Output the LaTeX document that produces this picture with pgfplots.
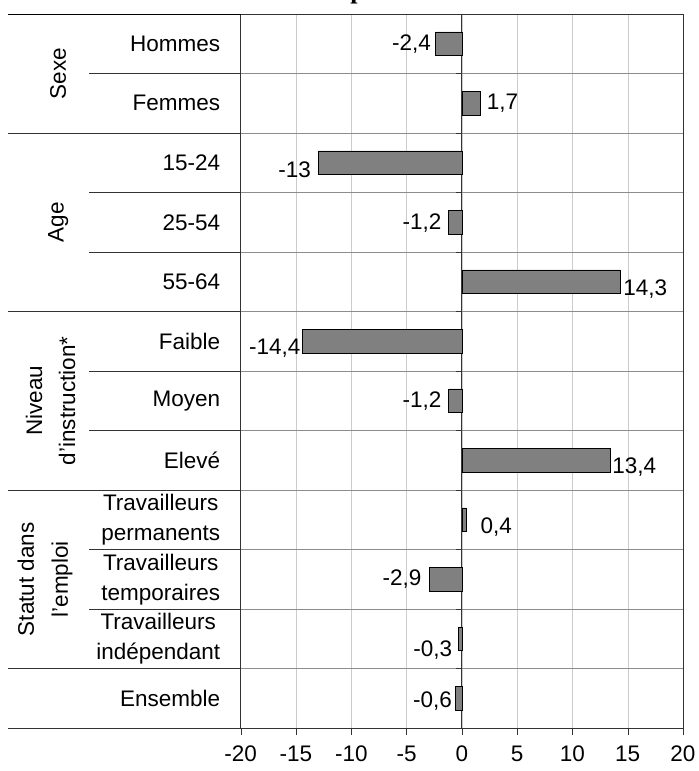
\documentclass[border=0pt]{standalone}
\usepackage{fontspec}
\setmainfont{Liberation Sans}
\newfontfamily\titlefont{Liberation Serif}
\usepackage{pgfplots}
\usepackage{pgfplotstable}
\pgfplotsset{compat=1.18}

\definecolor{barfill}{HTML}{808080}
\definecolor{rowline}{HTML}{8C8C8C}
\definecolor{vgrid}{HTML}{CCCCCC}
\definecolor{frame}{HTML}{333333}

% row, value, printed label, label shifts (bp)
\pgfplotstableread{
row val   lab   dx  dy
1   -2.4  -2,4  -4  0
2   1.7   1,7   6   0
3   -13   -13   -7  -7
4   -1.2  -1,2  -7  -1
5   14.3  14,3  3   -7
6   -14.4 -14,4 -2  -7
7   -1.2  -1,2  -7  0
8   13.4  13,4  2   -7
9   0.4   0,4   14  -7
10  -2.9  -2,9  -8  0
11  -0.3  -0,3  -6  -11
12  -0.6  -0,6  -3  -3
}\data

\newcommand{\lbl}{\fontsize{22.5bp}{30bp}\selectfont}

\begin{document}
\begin{tikzpicture}
\useasboundingbox (-240.7bp,-43bp) rectangle (458.3bp,728bp);
\begin{axis}[
    at={(0,0)}, anchor=south west,
    scale only axis, width=442.3bp, height=714bp,
    xmin=-20, xmax=20, ymin=0.5, ymax=12.5, y dir=reverse,
    xbar, bar width=0.4,
    clip=false,
    axis line style={frame},
    xtick={-20,-15,...,20},
    xticklabels={-20,-15,-10,-5,0,5,10,15,20},
    xtick pos=left, xtick align=outside,
    major tick length=7bp,
    xtick style={frame},
    xmajorgrids, major grid style={vgrid},
    xticklabel style={yshift=-7bp},
    ytick={1,...,12},
    yticklabels={Hommes,Femmes,15-24,25-54,55-64,Faible,Moyen,Elevé,
        {Travailleurs\\permanents},{Travailleurs\\temporaires},
        {Travailleurs\\indépendant},Ensemble},
    yticklabel style={align=center, xshift=-10bp},
    ytick style={draw=none},
    minor ytick={1.5,2.5,...,11.5},
    yminorgrids, minor grid style={rowline},
    minor y tick style={draw=none},
    every tick label/.append style={font=\lbl},
    point meta=explicit symbolic,
    visualization depends on={\thisrow{val} \as \lv},
    visualization depends on={\thisrow{dx} \as \ldx},
    visualization depends on={\thisrow{dy} \as \ldy},
    nodes near coords,
    nodes near coords style={font=\lbl, inner sep=0pt,
        /utils/exec={\ifdim\lv pt<0pt \def\lanc{east}\else\def\lanc{west}\fi},
        anchor=\lanc, xshift=\ldx bp, yshift=\ldy bp},
]
\draw[frame, line width=1.2bp] (axis cs:0,0.5) -- (axis cs:0,12.5);
\pgfplotsinvokeforeach{1.5,2.5,3.5,4.5,5.5,6.5,7.5,8.5,9.5,10.5,11.5}{
    \draw[frame] (axis cs:0,#1) -- (axis cs:-0.5,#1);}
\addplot[fill=barfill, draw=black, line width=0.6bp]
    table[x=val, y=row, meta=lab] {\data};

% table lines in the label area
\draw[black] (axis cs:-41,0.5) -- (axis cs:-20,0.5);
\pgfplotsinvokeforeach{2.5,5.5,8.5,11.5,12.5}{
    \draw[frame] (axis cs:-41,#1) -- (axis cs:-20,#1);}
\pgfplotsinvokeforeach{1.5,3.5,4.5,6.5,7.5,9.5,10.5}{
    \draw[frame] (axis cs:-33.7,#1) -- (axis cs:-20,#1);}

\node[font=\lbl, rotate=90] at (axis cs:-36.5,1.5) {Sexe};
\node[font=\lbl, rotate=90] at (axis cs:-36.5,4) {Age};
\node[font=\fontsize{22.5bp}{33bp}\selectfont, rotate=90, align=center]
    at (axis cs:-37.2,7) {Niveau\\d'instruction*};
\node[font=\fontsize{22.5bp}{34bp}\selectfont, rotate=90, align=center]
    at (axis cs:-37.7,10) {Statut dans\\l'emploi};
\end{axis}
\node[font=\titlefont\bfseries\fontsize{26bp}{30bp}\selectfont, anchor=base]
    at (117bp,729.5bp) {p};
\end{tikzpicture}
\end{document}
